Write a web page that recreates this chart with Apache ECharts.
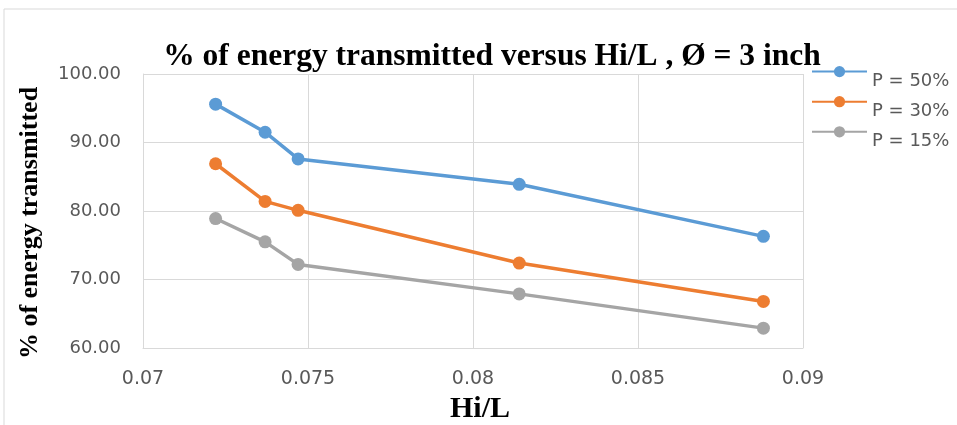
<!DOCTYPE html>
<html><head><meta charset="utf-8">
<script src="https://cdn.jsdelivr.net/npm/echarts@6/dist/echarts.min.js"></script>
<style>html,body{margin:0;padding:0;background:#fff}#c{width:957px;height:425px}</style>
</head><body><div id="c"></div>
<script>
const xValues = [0.0722, 0.0737, 0.0747, 0.0814, 0.0888];
const p50 = [95.6, 91.5, 87.6, 83.9, 76.3];
const p30 = [86.9, 81.4, 80.1, 72.4, 66.8];
const p15 = [78.9, 75.5, 72.2, 67.9, 62.9];
const seriesNames = ['P = 50%', 'P = 30%', 'P = 15%'];
const colors = ['#5b9bd5', '#ed7d31', '#a5a5a5'];
const title = '% of energy transmitted versus Hi/L , Ø = 3 inch';
const xName = 'Hi/L';
const yName = '% of energy transmitted';

const chart = echarts.init(document.getElementById('c'));
const seriesData = [p50, p30, p15];
const serif = '"Liberation Serif", "Times New Roman", serif';
const sans = '"DejaVu Sans", sans-serif';
chart.setOption({
  animation: false,
  backgroundColor: '#fff',
  graphic: [{type:'rect', shape:{x:4, y:9, width:1000, height:500}, style:{fill:'none', stroke:'#d9d9d9', lineWidth:1}, z:-1}],
  title: {text: title, left: 487, textAlign: 'center', top: 36,
    textStyle: {fontFamily: serif, fontWeight: 'bold', fontSize: 31.5, color: '#000'}},
  legend: {orient: 'vertical', left: 806, top: 61, itemWidth: 55, itemHeight: 14, itemGap: 5.5,
    data: seriesNames,
    formatter: '{a|{name}}',
    textStyle: {fontFamily: sans, fontSize: 18, color: '#595959',
      rich: {a: {fontFamily: sans, fontSize: 18, color: '#595959', padding: [20,0,0,0]}}}},
  grid: {left: 143, right: 154, top: 74, bottom: 77, outerBoundsMode: 'none', containLabel: false},
  xAxis: {type: 'value', min: 0.07, max: 0.09, interval: 0.005,
    name: xName, nameLocation: 'middle', nameGap: 46,
    nameTextStyle: {fontFamily: serif, fontWeight: 'bold', fontSize: 30, color: '#000', padding: [0,0,0,14]},
    axisLine: {show: true, lineStyle: {color: '#d9d9d9'}}, axisTick: {show: false},
    splitLine: {show: true, lineStyle: {color: '#d9d9d9'}},
    axisLabel: {fontFamily: sans, fontSize: 19, color: '#595959', margin: 22,
      formatter: v => String(+v.toFixed(3))}},
  yAxis: {type: 'value', min: 60, max: 100, interval: 10,
    name: yName, nameLocation: 'middle', nameGap: 100, nameRotate: 90,
    nameTextStyle: {fontFamily: serif, fontWeight: 'bold', fontSize: 26, color: '#000', padding: [0,24,0,0]},
    axisLine: {show: true, lineStyle: {color: '#d9d9d9'}}, axisTick: {show: false},
    splitLine: {show: true, lineStyle: {color: '#d9d9d9'}},
    axisLabel: {fontFamily: sans, fontSize: 18, color: '#595959', margin: 22,
      formatter: v => v.toFixed(2)}},
  series: seriesNames.map((n, i) => ({
    name: n, type: 'line', data: xValues.map((x, j) => [x, seriesData[i][j]]),
    symbol: 'circle', symbolSize: 13,
    itemStyle: {color: colors[i]}, lineStyle: {color: colors[i], width: 3.5}
  }))
});
</script></body></html>
